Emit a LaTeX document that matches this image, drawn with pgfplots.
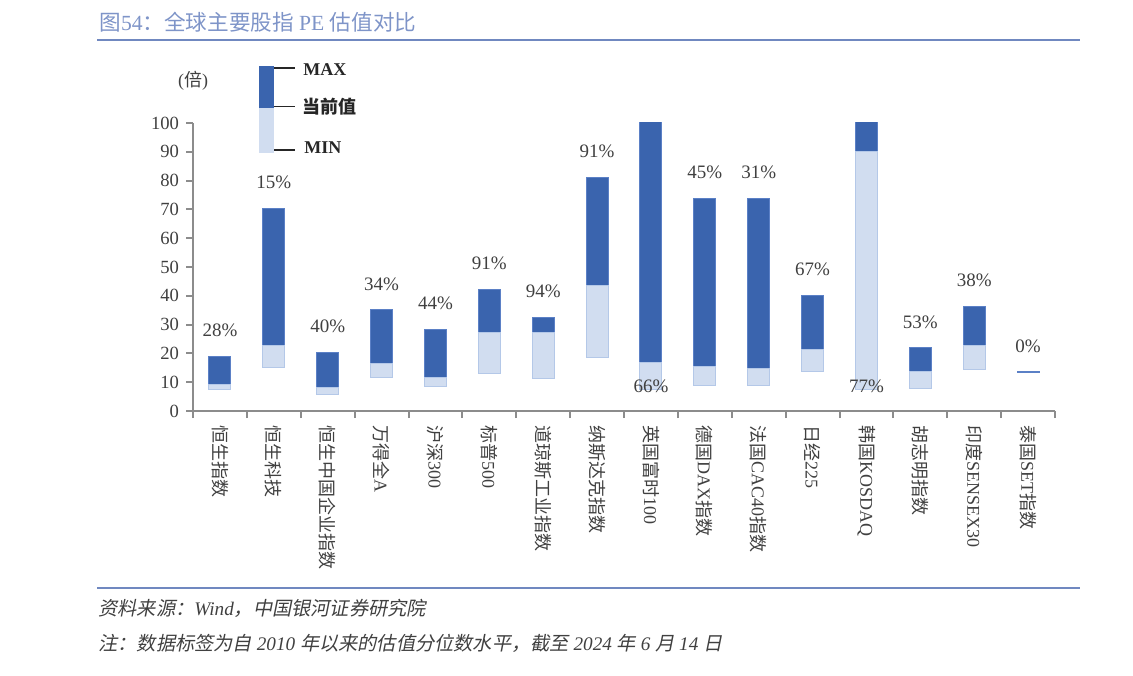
\documentclass[border=0pt]{standalone}
\usepackage{fontspec}
\setmainfont{Liberation Serif}
\newfontfamily\cjk{Noto Sans CJK SC}
\newfontfamily\cjksl{Noto Sans CJK SC}[FakeSlant=0.2]
\usepackage{pgfplots}
\usepackage{pgfplotstable}
\pgfplotsset{compat=1.18}
\definecolor{dk}{HTML}{3A64AE}
\definecolor{lt}{HTML}{D1DDF0}
\definecolor{dkb}{HTML}{5B80C6}
\definecolor{ltb}{HTML}{B4C8E8}
\definecolor{ttl}{HTML}{7E94C8}
\definecolor{rulec}{HTML}{7088C0}
\definecolor{txt}{HTML}{404040}
\definecolor{axc}{HTML}{8C8C8C}
\newcommand\zh[1]{{\cjk #1}}

\pgfplotstableread{
x  lo   cur  hi
0  7.5  9.3  18.9
1  15.2 22.9 70.4
2  5.8  8.2  20.3
3  11.7 16.6 35.1
4  8.5  11.7 28.2
5  12.9 27.2 42.1
6  11.3 27.3 32.6
7  18.5 43.6 81.2
8  7.3  16.9 110
9  8.7  15.5 73.7
10 8.7  14.8 73.9
11 13.7 21.5 40.2
12 7.5  90.0 110
13 7.8  13.8 21.9
14 14.4 22.6 36.3
15 13.4 13.4 13.6
}\data

\begin{document}
\begin{tikzpicture}
\path (0,0) rectangle (566.5pt,337.5pt);
% title and rules
\node[anchor=west, inner sep=0pt, text=ttl, font=\fontsize{10.8}{12}\selectfont] at (49.5pt,326.5pt)
  {\zh{图}54\zh{：全球主要股指} PE \zh{估值对比}};
\draw[rulec, line width=1.1pt] (48.5pt,317.5pt) -- (540pt,317.5pt);
\draw[rulec, line width=1.1pt] (48.5pt,43.5pt) -- (540pt,43.5pt);
\node[anchor=west, inner sep=0pt, text=txt, font=\fontsize{9.6}{11}\selectfont] at (49pt,33.5pt)
  {{\cjksl 资料来源：}\textit{Wind}{\cjksl ，中国银河证券研究院}};
\node[anchor=west, inner sep=0pt, text=txt, font=\fontsize{9.6}{11}\selectfont] at (49pt,16pt)
  {{\cjksl 注：数据标签为自} \textit{2010} {\cjksl 年以来的估值分位数水平，截至} \textit{2024} {\cjksl 年} \textit{6} {\cjksl 月} \textit{14} {\cjksl 日}};
% unit
\node[text=txt, inner sep=0pt, font=\fontsize{9}{10}\selectfont] at (96.5pt,297.3pt) {(\zh{倍})};
% legend
\fill[dk] (129.5pt,304.5pt) rectangle (137pt,283.5pt);
\fill[lt] (129.5pt,283.5pt) rectangle (137pt,261pt);
\draw[black!85, line width=0.7pt] (137pt,303.4pt) -- (147.5pt,303.4pt);
\draw[black!85, line width=0.7pt] (137pt,284.2pt) -- (147.5pt,284.2pt);
\draw[black!85, line width=0.7pt] (137pt,262.5pt) -- (147.5pt,262.5pt);
\node[anchor=west, inner sep=0pt, text=black!85, font=\bfseries\fontsize{9}{10}\selectfont] at (151.5pt,302.5pt) {MAX};
\node[anchor=west, inner sep=0pt, text=black!85, font=\fontsize{9}{10}\selectfont] at (151pt,284.2pt) {{\cjk\bfseries 当前值}};
\node[anchor=west, inner sep=0pt, text=black!85, font=\bfseries\fontsize{9}{10}\selectfont] at (152pt,263.5pt) {MIN};

\begin{axis}[
  at={(96.5pt,132pt)}, anchor=south west,
  scale only axis, width=431pt, height=144pt,
  xmin=-0.5, xmax=15.5, ymin=0, ymax=100,
  axis x line*=bottom, axis y line*=left,
  axis line style={draw=axc, line width=1pt},
  tick style={draw=axc, line width=1pt},
  tick align=outside, major tick length=3.5pt,
  ytick={0,10,...,100},
  xtick={-0.5,0.5,...,15.5}, xticklabels={},
  extra x ticks={0,1,...,15},
  extra x tick labels={\zh{恒生指数},\zh{恒生科技},\zh{恒生中国企业指数},\zh{万得全}A,\zh{沪深}300,\zh{标普}500,\zh{道琼斯工业指数},\zh{纳斯达克指数},\zh{英国富时}100,\zh{德国}DAX\zh{指数},\zh{法国}CAC40\zh{指数},\zh{日经}225,\zh{韩国}KOSDAQ,\zh{胡志明指数},\zh{印度}SENSEX30,\zh{泰国}SET\zh{指数}},
  extra x tick style={tick style={draw=none}, xticklabel style={rotate=-90, anchor=west, font=\fontsize{9}{10}\selectfont, text=txt}},
  yticklabel style={font=\fontsize{9.3}{10}\selectfont, text=txt},
  /pgf/number format/assume math mode=true,
  ybar stacked, bar width=11pt,
  clip mode=individual,
]
\addplot[draw=none, fill=none] table[x=x, y=lo] {\data};
\addplot[fill=lt, draw=ltb, line width=0.5pt] table[x=x, y expr=\thisrow{cur}-\thisrow{lo}] {\data};
\addplot[fill=dk, draw=dkb, line width=0.5pt] table[x=x, y expr=\thisrow{hi}-\thisrow{cur}] {\data};
\coordinate (L0) at (axis cs:0,18.9);
\coordinate (L1) at (axis cs:1,70.4);
\coordinate (L2) at (axis cs:2,20.3);
\coordinate (L3) at (axis cs:3,35.1);
\coordinate (L4) at (axis cs:4,28.2);
\coordinate (L5) at (axis cs:5,42.1);
\coordinate (L6) at (axis cs:6,32.6);
\coordinate (L7) at (axis cs:7,81.2);
\coordinate (L8) at (axis cs:8,8.7);
\coordinate (L9) at (axis cs:9,73.7);
\coordinate (L10) at (axis cs:10,73.9);
\coordinate (L11) at (axis cs:11,40.2);
\coordinate (L12) at (axis cs:12,8.7);
\coordinate (L13) at (axis cs:13,21.9);
\coordinate (L14) at (axis cs:14,36.3);
\coordinate (L15) at (axis cs:15,13.5);
\end{axis}
\tikzset{pl/.style={text=txt, font=\fontsize{9.5}{10}\selectfont, inner sep=0pt}}
\node[pl, yshift=13pt] at (L0) {28\%};
\node[pl, yshift=13pt] at (L1) {15\%};
\node[pl, yshift=13pt] at (L2) {40\%};
\node[pl, yshift=13pt] at (L3) {34\%};
\node[pl, yshift=13pt] at (L4) {44\%};
\node[pl, yshift=13pt] at (L5) {91\%};
\node[pl, yshift=13pt] at (L6) {94\%};
\node[pl, yshift=13pt] at (L7) {91\%};
\node[pl] at (L8) {66\%};
\node[pl, yshift=13pt] at (L9) {45\%};
\node[pl, yshift=13pt] at (L10) {31\%};
\node[pl, yshift=13pt] at (L11) {67\%};
\node[pl] at (L12) {77\%};
\node[pl, yshift=13pt] at (L13) {53\%};
\node[pl, yshift=13pt] at (L14) {38\%};
\node[pl, yshift=12.7pt] at (L15) {0\%};
\end{tikzpicture}
\end{document}
